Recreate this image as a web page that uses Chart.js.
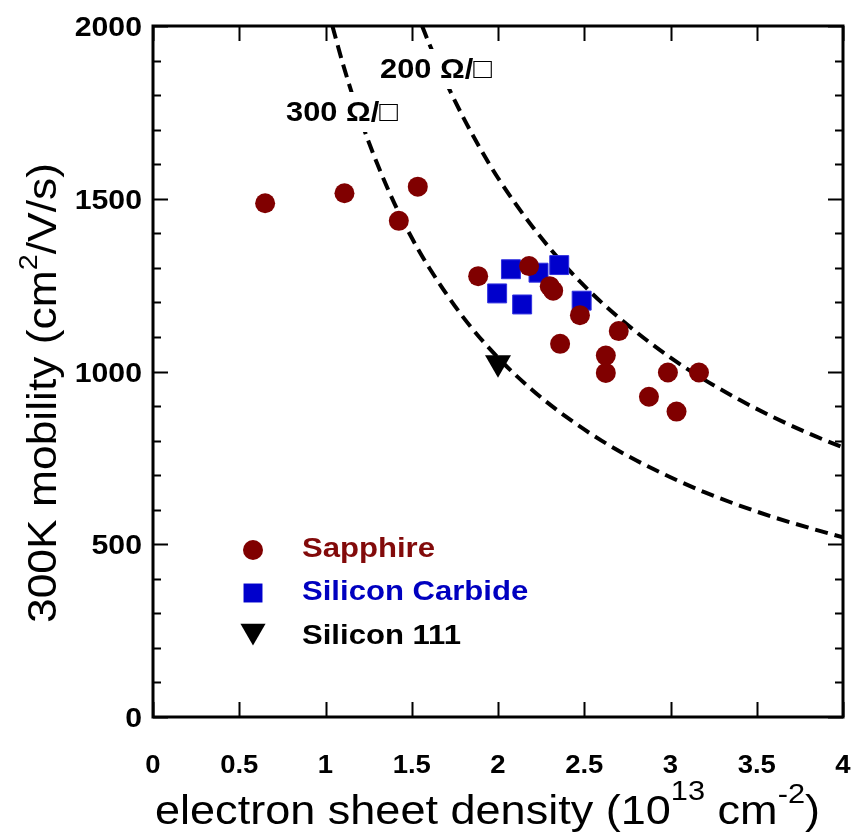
<!DOCTYPE html>
<html>
<head>
<meta charset="utf-8">
<script src="https://cdn.jsdelivr.net/npm/chart.js@4.4.1/dist/chart.umd.min.js"></script>
<style>
  html, body { margin: 0; padding: 0; background: #fff; }
  #wrap { width: 858px; height: 832px; }
</style>
</head>
<body>
<div id="wrap"><canvas id="mobilityChart" width="858" height="832"></canvas></div>
<script>
// electron sheet density (1e13 cm^-2) vs 300K mobility (cm^2/V/s)
const sapphireN  = [0.65, 1.11, 1.425, 1.535, 1.885, 2.18, 2.30, 2.32, 2.475, 2.70, 2.36, 2.625, 2.625, 2.985, 3.165, 2.875, 3.035];
const sapphireMu = [1487, 1516, 1436, 1535, 1276, 1305, 1247, 1234, 1163, 1117, 1080, 1046, 996, 997, 997, 927, 884];

const sicN  = [2.075, 1.995, 2.14, 2.235, 2.355, 2.485];
const sicMu = [1296, 1226, 1194, 1286, 1308, 1205];

const si111N  = [2.0];
const si111Mu = [1025];

// sheet resistance guide curves
const r300N  = [1.04, 1.1, 1.2, 1.3, 1.4, 1.5, 1.6, 1.8, 2.0, 2.2, 2.4, 2.6, 2.8, 3.0, 3.2, 3.4, 3.6, 3.8, 4.0];
const r300Mu = [2000, 1892, 1734, 1601, 1486, 1387, 1301, 1156, 1040, 946, 867, 800, 743, 694, 650, 612, 578, 548, 520];
const r200N  = [1.56, 1.6, 1.7, 1.8, 1.9, 2.0, 2.2, 2.4, 2.6, 2.8, 3.0, 3.2, 3.4, 3.6, 3.8, 4.0];
const r200Mu = [2000, 1950, 1836, 1734, 1643, 1560, 1419, 1300, 1200, 1115, 1040, 975, 918, 867, 821, 780];

const seriesNames = ["Sapphire", "Silicon Carbide", "Silicon 111"];
const seriesColors = ["#800000", "#0000cc", "#000000"];
const legendTextColors = ["#820a0a", "#0000c0", "#000000"];
const curveNames = ["300 Ω/□", "200 Ω/□"];
const yLabelValues = [0, 500, 1000, 1500, 2000];

const FONT = '"Liberation Sans", Arial, Helvetica, sans-serif';

function toPoints(xs, ys) {
    return xs.map((x, i) => ({ x: x, y: ys[i] }));
}

function stretchText(ctx, str, x, y, font, color, align, sx) {
    ctx.save();
    ctx.font = font;
    ctx.fillStyle = color;
    ctx.textAlign = align;
    ctx.textBaseline = "alphabetic";
    ctx.translate(x, y);
    ctx.scale(sx, 1);
    ctx.fillText(str, 0, 0);
    ctx.restore();
}

// draws text with superscripts, fitted to a given length
function drawRich(ctx, parts, x, y, targetW) {
    let total = 0;
    parts.forEach(p => { ctx.font = p.f; total += ctx.measureText(p.t).width; });
    const sx = targetW / total;
    ctx.save();
    ctx.translate(x, y);
    ctx.scale(sx, 1);
    ctx.fillStyle = "#000";
    ctx.textAlign = "left";
    ctx.textBaseline = "alphabetic";
    let cx = 0;
    parts.forEach(p => {
        ctx.font = p.f;
        ctx.fillText(p.t, cx, p.dy || 0);
        cx += ctx.measureText(p.t).width;
    });
    ctx.restore();
}

const decorations = {
    id: "decorations",
    afterDatasetsDraw(chart) {
        const ctx = chart.ctx;
        // curve labels sitting on white boxes
        const labels = [
            { text: curveNames[0], x: 286, y: 121 },
            { text: curveNames[1], x: 380, y: 78 }
        ];
        labels.forEach(l => {
            ctx.font = "bold 28px " + FONT;
            const w = ctx.measureText(l.text).width * 1.1;
            ctx.fillStyle = "#fff";
            ctx.fillRect(l.x - 4, l.y - 29, w + 8, 40);
            stretchText(ctx, l.text, l.x, l.y, "bold 28px " + FONT, "#000", "left", 1.1);
        });
    },
    afterDraw(chart) {
        const ctx = chart.ctx;
        const a = chart.chartArea;
        const xs = chart.scales.x;
        const ys = chart.scales.y;

        ctx.save();
        ctx.strokeStyle = "#000";
        ctx.lineWidth = 2;
        ctx.beginPath();
        xs.ticks.forEach(t => {
            const px = Math.round(xs.getPixelForValue(t.value)) + 0.5;
            ctx.moveTo(px, a.bottom); ctx.lineTo(px, a.bottom - 15);
            ctx.moveTo(px, a.top); ctx.lineTo(px, a.top + 15);
        });
        ys.ticks.forEach(t => {
            const py = Math.round(ys.getPixelForValue(t.value)) + 0.5;
            const len = yLabelValues.includes(t.value) ? 15 : 8;
            ctx.moveTo(a.left, py); ctx.lineTo(a.left + len, py);
            ctx.moveTo(a.right, py); ctx.lineTo(a.right - len, py);
        });
        ctx.stroke();

        // frame
        ctx.lineWidth = 3;
        ctx.strokeRect(a.left, a.top, a.right - a.left, a.bottom - a.top);
        ctx.restore();

        // tick labels
        xs.ticks.forEach(t => {
            const px = xs.getPixelForValue(t.value);
            stretchText(ctx, String(t.value), px, 773, "bold 25px " + FONT, "#000", "center", 1.1);
        });
        ys.ticks.forEach(t => {
            if (!yLabelValues.includes(t.value)) return;
            const py = ys.getPixelForValue(t.value);
            stretchText(ctx, String(t.value), 142, py + 10, "bold 28px " + FONT, "#000", "right", 1.08);
        });

        // axis titles
        drawRich(ctx, [
            { t: "electron sheet density (10", f: "41px " + FONT },
            { t: "13", f: "28px " + FONT, dy: -24 },
            { t: " cm", f: "41px " + FONT },
            { t: "-2", f: "28px " + FONT, dy: -21 },
            { t: ")", f: "41px " + FONT }
        ], 155, 824, 665);

        ctx.save();
        ctx.translate(56, 623);
        ctx.rotate(-Math.PI / 2);
        drawRich(ctx, [
            { t: "300K mobility (cm", f: "40px " + FONT },
            { t: "2", f: "26px " + FONT, dy: -19 },
            { t: "/V/s)", f: "40px " + FONT }
        ], 0, 0, 460);
        ctx.restore();

        // legend
        const rows = [550, 593, 631];
        const textBase = [557, 600, 644];
        chart.data.datasets.slice(0, 3).forEach((ds, i) => {
            ctx.save();
            ctx.fillStyle = ds.pointBackgroundColor;
            ctx.strokeStyle = ds.pointBackgroundColor;
            Chart.helpers.drawPoint(ctx, {
                pointStyle: ds.pointStyle,
                radius: i === 2 ? 14.5 : ds.pointRadius,
                rotation: ds.rotation || 0,
                borderWidth: 0
            }, 253, rows[i]);
            ctx.restore();
            stretchText(ctx, ds.label, 302, textBase[i], "bold 28px " + FONT, legendTextColors[i], "left", 1.11);
        });
    }
};

new Chart(document.getElementById("mobilityChart").getContext("2d"), {
    type: "scatter",
    data: {
        datasets: [
            {
                label: seriesNames[0],
                data: toPoints(sapphireN, sapphireMu),
                pointStyle: "circle",
                pointRadius: 10,
                pointBackgroundColor: seriesColors[0],
                pointBorderWidth: 0,
                order: 1
            },
            {
                label: seriesNames[1],
                data: toPoints(sicN, sicMu),
                pointStyle: "rect",
                pointRadius: 13.4,
                pointBackgroundColor: seriesColors[1],
                pointBorderColor: "#3030e0",
                pointBorderWidth: 1,
                order: 1
            },
            {
                label: seriesNames[2],
                data: toPoints(si111N, si111Mu),
                pointStyle: "triangle",
                rotation: 180,
                pointRotation: 180,
                pointRadius: 15,
                pointBackgroundColor: seriesColors[2],
                pointBorderWidth: 0,
                order: 1
            },
            {
                label: curveNames[0],
                data: toPoints(r300N, r300Mu),
                showLine: true,
                pointRadius: 0,
                borderColor: "#000",
                borderWidth: 4,
                borderDash: [13, 7],
                cubicInterpolationMode: "monotone",
                order: 2
            },
            {
                label: curveNames[1],
                data: toPoints(r200N, r200Mu),
                showLine: true,
                pointRadius: 0,
                borderColor: "#000",
                borderWidth: 4,
                borderDash: [13, 7],
                cubicInterpolationMode: "monotone",
                order: 2
            }
        ]
    },
    options: {
        responsive: false,
        animation: false,
        devicePixelRatio: 1,
        layout: { padding: { left: 0, top: 26, right: 9, bottom: 0 } },
        plugins: {
            legend: { display: false },
            tooltip: { enabled: false }
        },
        scales: {
            x: {
                type: "linear",
                min: 0,
                max: 4,
                ticks: { stepSize: 0.5, display: false },
                grid: { display: false },
                border: { display: false },
                afterFit: scale => { scale.height = 115; }
            },
            y: {
                type: "linear",
                min: 0,
                max: 2000,
                ticks: { stepSize: 100, display: false, autoSkip: false },
                grid: { display: false },
                border: { display: false },
                afterFit: scale => { scale.width = 153; }
            }
        }
    },
    plugins: [decorations]
});
</script>
</body>
</html>
